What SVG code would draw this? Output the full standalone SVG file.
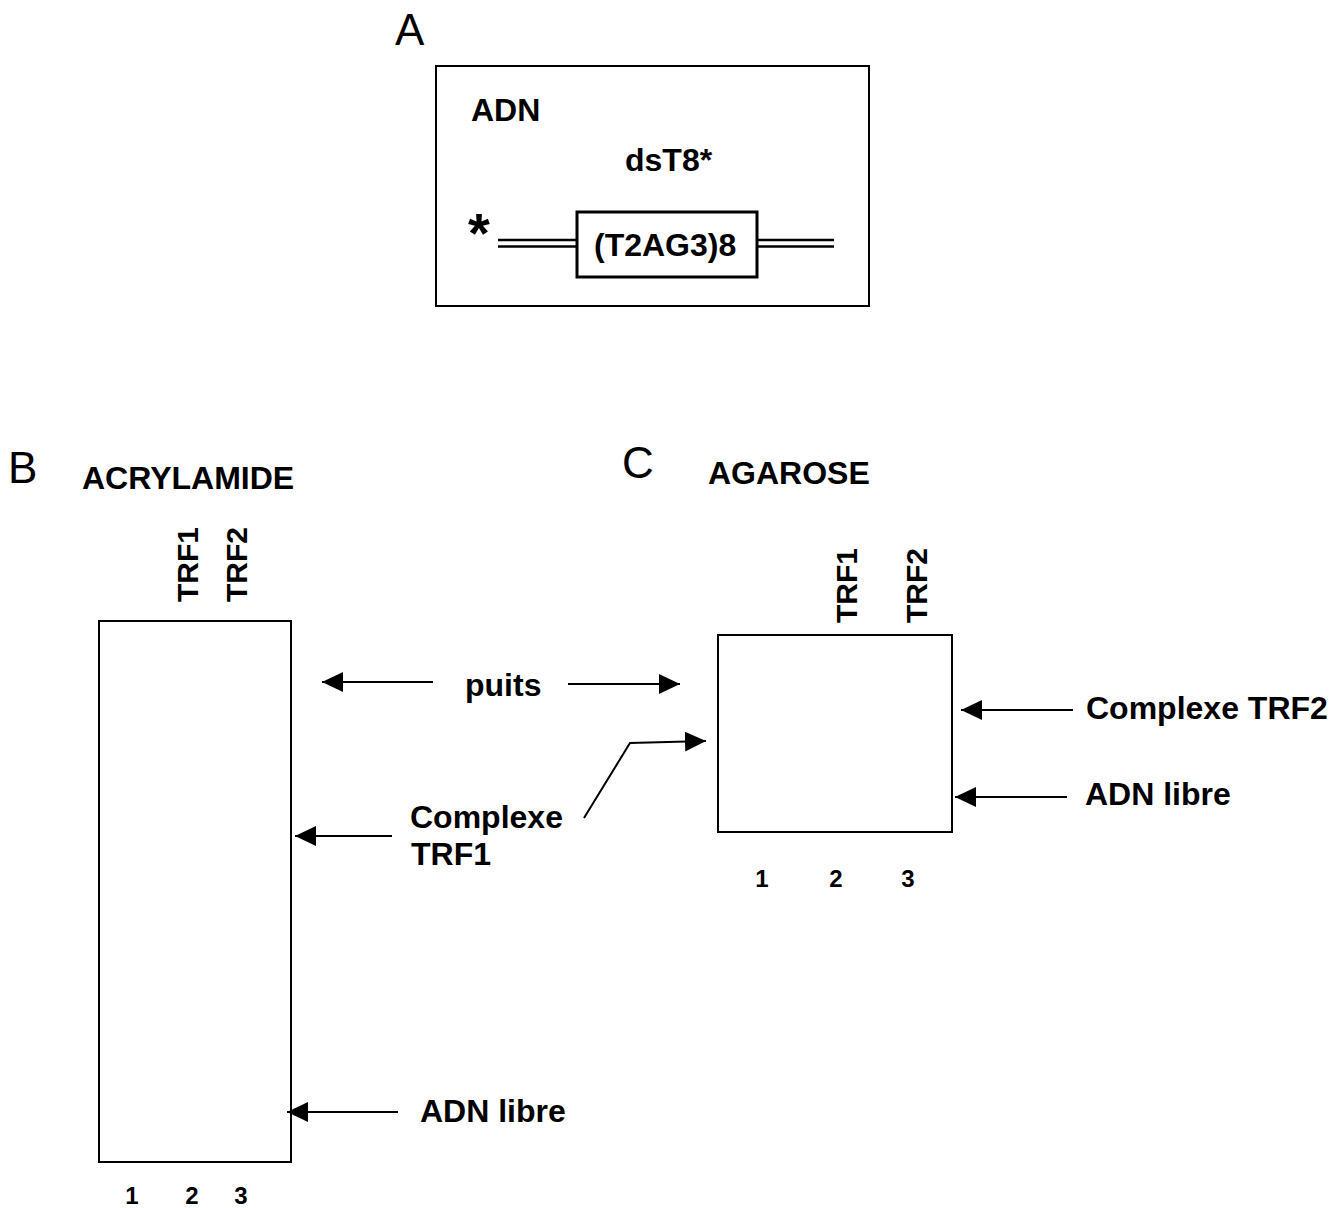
<svg xmlns="http://www.w3.org/2000/svg" width="1343" height="1208" viewBox="0 0 1343 1208">
<style>
text{font-family:"Liberation Sans",Arial,sans-serif;fill:#000}
.b{font-weight:bold;font-size:32px}
.big{font-size:44px}
.num{font-weight:bold;font-size:24px;text-anchor:middle}
.lane{font-weight:bold;font-size:30px}
.box{fill:none;stroke:#000;stroke-width:2}
.dna{fill:none;stroke:#000;stroke-width:2.6}
.arr{fill:none;stroke:#000;stroke-width:2;marker-end:url(#ah)}
</style>
<defs>
<marker id="ah" viewBox="0 0 21 20" refX="21" refY="10" markerWidth="21" markerHeight="20" orient="auto" markerUnits="userSpaceOnUse">
<path d="M0,0 L21,10 L0,20 z" fill="#000"/>
</marker>
</defs>
<rect width="1343" height="1208" fill="#fff"/>

<g id="panelA">
<text class="big" x="395" y="45">A</text>
<rect class="box" x="436" y="66" width="433" height="240"/>
<text class="b" x="471" y="121">ADN</text>
<text class="b" x="625" y="171">dsT8*</text>
<text x="468" y="252" style="font-weight:bold;font-size:56px">*</text>
<line class="dna" x1="498" y1="240" x2="577" y2="240"/>
<line class="dna" x1="498" y1="246.5" x2="577" y2="246.5"/>
<line class="dna" x1="757" y1="240" x2="834" y2="240"/>
<line class="dna" x1="757" y1="246.5" x2="834" y2="246.5"/>
<rect x="577" y="212" width="180" height="65" fill="none" stroke="#000" stroke-width="3"/>
<text class="b" x="594" y="256">(T2AG3)8</text>
</g>

<g id="panelB">
<text class="big" x="8" y="483">B</text>
<text class="b" x="82" y="489">ACRYLAMIDE</text>
<text class="lane" transform="translate(198,602) rotate(-90)">TRF1</text>
<text class="lane" transform="translate(247,602) rotate(-90)">TRF2</text>
<rect class="box" x="99" y="621" width="192" height="541"/>
<text class="num" x="132" y="1204">1</text>
<text class="num" x="192" y="1204">2</text>
<text class="num" x="241" y="1204">3</text>
</g>

<g id="panelC">
<text class="big" x="622" y="478">C</text>
<text class="b" x="708" y="484">AGAROSE</text>
<text class="lane" transform="translate(857,623) rotate(-90)">TRF1</text>
<text class="lane" transform="translate(927,623) rotate(-90)">TRF2</text>
<rect class="box" x="718" y="635" width="234" height="197"/>
<text class="num" x="762" y="887">1</text>
<text class="num" x="836" y="887">2</text>
<text class="num" x="908" y="887">3</text>
</g>

<g id="labels">
<text class="b" x="465" y="696">puits</text>
<text class="b" x="410" y="828">Complexe</text>
<text class="b" x="411" y="865">TRF1</text>
<text class="b" x="1086" y="719">Complexe TRF2</text>
<text class="b" x="1085" y="805">ADN libre</text>
<text class="b" x="420" y="1122">ADN libre</text>
</g>

<g id="connectors">
<line class="arr" x1="433" y1="682" x2="322" y2="682"/>
<line class="arr" x1="568" y1="684" x2="680" y2="684"/>
<path class="arr" d="M584,818 L630,743 L706,741"/>
<line class="arr" x1="392" y1="836" x2="295" y2="836"/>
<line class="arr" x1="1073" y1="710" x2="961" y2="710"/>
<line class="arr" x1="1067" y1="797" x2="955" y2="797"/>
<line class="arr" x1="398" y1="1112" x2="287" y2="1112"/>
</g>
</svg>
